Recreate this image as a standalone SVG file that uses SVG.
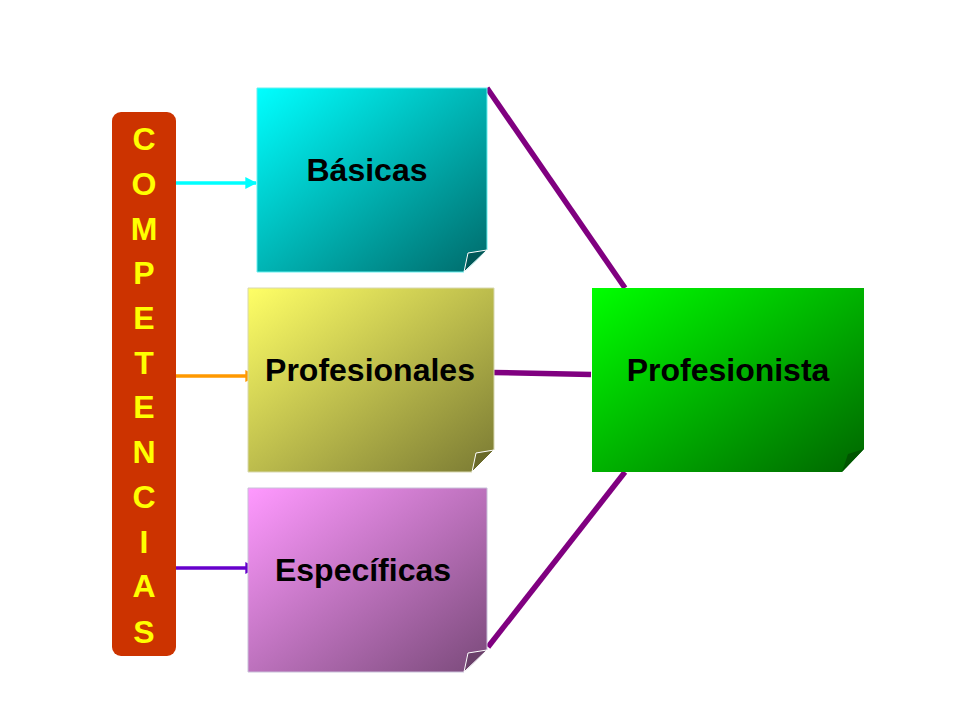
<svg xmlns="http://www.w3.org/2000/svg" width="960" height="720" viewBox="0 0 960 720">
<defs>
<linearGradient id="gCyan" x1="0" y1="0" x2="1" y2="1"><stop offset="0" stop-color="#00FFFF"/><stop offset="1" stop-color="#006A6A"/></linearGradient>
<linearGradient id="gYel" x1="0" y1="0" x2="1" y2="1"><stop offset="0" stop-color="#FFFF66"/><stop offset="1" stop-color="#7A7A33"/></linearGradient>
<linearGradient id="gPink" x1="0" y1="0" x2="1" y2="1"><stop offset="0" stop-color="#FF99FF"/><stop offset="1" stop-color="#7A4A7A"/></linearGradient>
<linearGradient id="gGreen" x1="0" y1="0" x2="1" y2="1"><stop offset="0" stop-color="#00FF00"/><stop offset="1" stop-color="#006600"/></linearGradient>
<marker id="ahC" viewBox="0 0 10 10" refX="9" refY="5" markerWidth="3.4" markerHeight="3.4" orient="auto" markerUnits="strokeWidth"><path d="M0,0 L10,5 L0,10 Z" fill="#00FFFF"/></marker>
<marker id="ahO" viewBox="0 0 10 10" refX="9" refY="5" markerWidth="3.4" markerHeight="3.4" orient="auto" markerUnits="strokeWidth"><path d="M0,0 L10,5 L0,10 Z" fill="#FF9900"/></marker>
<marker id="ahP" viewBox="0 0 10 10" refX="9" refY="5" markerWidth="3.4" markerHeight="3.4" orient="auto" markerUnits="strokeWidth"><path d="M0,0 L10,5 L0,10 Z" fill="#6600CC"/></marker>
</defs>
<style>
.lbl{font-family:"Liberation Sans",Arial,sans-serif;font-weight:bold;font-size:32px;fill:#000;text-anchor:middle}
.vl{font-family:"Liberation Sans",Arial,sans-serif;font-weight:bold;font-size:32px;fill:#FFFF00;text-anchor:middle}
.fold{stroke:#FFFFFF;stroke-width:1}
.arr{stroke-width:3.5;fill:none}
.link{stroke:#800080;stroke-width:5.5;fill:none}
</style>
<rect width="960" height="720" fill="#FFFFFF"/>
<g id="connectors">
<line class="link" x1="487" y1="88" x2="625" y2="288"/>
<line class="link" x1="493" y1="372.5" x2="591" y2="374.5"/>
<line class="link" x1="488" y1="647" x2="625" y2="472"/>
<line class="arr" x1="176" y1="183" x2="256" y2="183" stroke="#00FFFF" marker-end="url(#ahC)"/>
<line class="arr" x1="176" y1="376" x2="256" y2="376" stroke="#FF9900" marker-end="url(#ahO)"/>
<line class="arr" x1="176" y1="568" x2="256" y2="568" stroke="#6600CC" marker-end="url(#ahP)"/>
</g>
<g id="competencias">
<rect x="112" y="112" width="64" height="544" rx="9" fill="#CC3300"/>
<text class="vl" x="144" y="150">C</text>
<text class="vl" x="144" y="195">O</text>
<text class="vl" x="144" y="240">M</text>
<text class="vl" x="144" y="284">P</text>
<text class="vl" x="144" y="329">E</text>
<text class="vl" x="144" y="374">T</text>
<text class="vl" x="144" y="418">E</text>
<text class="vl" x="144" y="463">N</text>
<text class="vl" x="144" y="508">C</text>
<text class="vl" x="144" y="553">I</text>
<text class="vl" x="144" y="597">A</text>
<text class="vl" x="144" y="643">S</text>
</g>
<g id="basicas">
<path d="M257,88 H487 V250 L464,272 H257 Z" fill="url(#gCyan)" stroke="#66F0F0" stroke-width="1"/>
<path class="fold" d="M464,272 L468,253 L487,250 Z" fill="#005858"/>
<text class="lbl" x="367" y="181">Básicas</text>
</g>
<g id="profesionales">
<path d="M248,288 H494 V450 L472,472 H248 Z" fill="url(#gYel)" stroke="#D8D8B0" stroke-width="1"/>
<path class="fold" d="M472,472 L476,453 L494,450 Z" fill="#6A6A2A"/>
<text class="lbl" x="370" y="381">Profesionales</text>
</g>
<g id="especificas">
<path d="M248,488 H487 V650 L464,672 H248 Z" fill="url(#gPink)" stroke="#C8C0D8" stroke-width="1"/>
<path class="fold" d="M464,672 L468,653 L487,650 Z" fill="#6A406A"/>
<text class="lbl" x="363" y="581">Específicas</text>
</g>
<g id="profesionista">
<path d="M592,288 H864 V449 L842,472 H592 Z" fill="url(#gGreen)"/>
<path d="M842,472 L848,454 L864,449 Z" fill="#005500"/>
<text class="lbl" x="728" y="381">Profesionista</text>
</g>
</svg>
